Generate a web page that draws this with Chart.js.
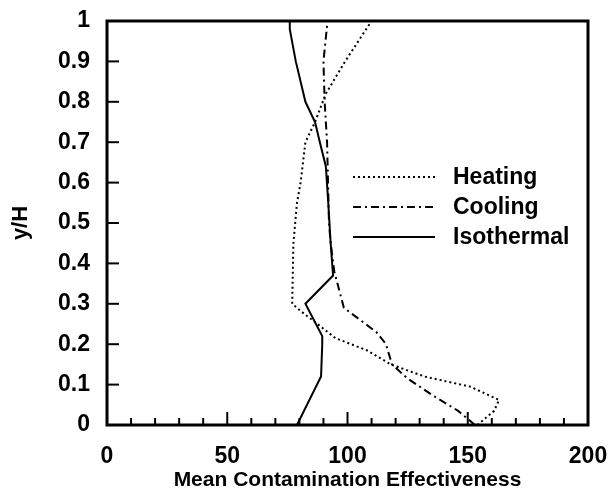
<!DOCTYPE html>
<html>
<head>
<meta charset="utf-8">
<script src="https://cdn.jsdelivr.net/npm/chart.js@4"></script>
<style>
  body { margin: 0; background: #fff; }
</style>
</head>
<body>
<canvas id="myChart" width="616" height="493"></canvas>
<script>
// profiles (x = mean contamination effectiveness, y = y/H)
const HEATING_X = [154, 161, 163, 151, 132, 118, 108, 95, 87.5, 81, 77, 77.5, 79, 80.5, 82.5, 86.5, 91, 99, 110];
const HEATING_Y = [0, 0.035, 0.062, 0.095, 0.12, 0.15, 0.185, 0.215, 0.25, 0.28, 0.3, 0.45, 0.55, 0.6, 0.7, 0.75, 0.82, 0.9, 1.0];

const COOLING_X = [153, 146, 135, 125, 118.5, 116, 112, 98.5, 94.5, 93, 92.3, 91.5, 90.5, 90, 91.7];
const COOLING_Y = [0, 0.035, 0.075, 0.115, 0.15, 0.2, 0.23, 0.29, 0.38, 0.45, 0.5, 0.7, 0.8, 0.9, 1.0];

const ISO_X = [79, 89, 89.5, 89.5, 82.5, 94, 93, 92, 91, 88.5, 86.5, 82.5, 78.5, 76, 76];
const ISO_Y = [0, 0.12, 0.2, 0.22, 0.3, 0.37, 0.45, 0.55, 0.64, 0.7, 0.75, 0.8, 0.9, 0.98, 1.0];

const SERIES_NAMES = ["Heating", "Cooling", "Isothermal"];
const X_TICKS = [0, 50, 100, 150, 200];
const X_MINOR = [10, 20, 30, 40, 60, 70, 80, 90, 110, 120, 130, 140, 160, 170, 180, 190];
const Y_TICKS = [0, 0.1, 0.2, 0.3, 0.4, 0.5, 0.6, 0.7, 0.8, 0.9, 1];

const FONT = "'Liberation Sans', Arial, sans-serif";
const pts = (xs, ys) => xs.map((x, i) => ({x: x, y: ys[i]}));

// inward ticks + box frame
const frameTicks = {
  id: 'frameTicks',
  afterDatasetsDraw(chart) {
    const {ctx, chartArea: a, scales: {x, y}} = chart;
    const seg = (x1, y1, x2, y2) => { ctx.beginPath(); ctx.moveTo(x1, y1); ctx.lineTo(x2, y2); ctx.stroke(); };
    ctx.save();
    ctx.strokeStyle = '#000';
    ctx.lineWidth = 2;
    Y_TICKS.forEach(v => { const p = y.getPixelForValue(v); seg(a.left, p, a.left + 12, p); });
    X_TICKS.forEach(v => { const p = x.getPixelForValue(v); seg(p, a.bottom, p, a.bottom - 13); });
    X_MINOR.forEach(v => { const p = x.getPixelForValue(v); seg(p, a.bottom, p, a.bottom - 7); });
    ctx.lineWidth = 3;
    ctx.strokeRect(a.left, a.top, a.right - a.left, a.bottom - a.top);
    ctx.restore();
  }
};

// legend drawn inside the plot
const insideLegend = {
  id: 'insideLegend',
  afterDraw(chart) {
    const ctx = chart.ctx;
    ctx.save();
    ctx.font = "bold 23px " + FONT;
    ctx.textBaseline = 'middle';
    ctx.fillStyle = '#000';
    chart.data.datasets.forEach((ds, i) => {
      const yy = 177 + i * 30;
      ctx.strokeStyle = '#000';
      ctx.lineWidth = ds.borderWidth;
      ctx.setLineDash(ds.borderDash || []);
      ctx.beginPath(); ctx.moveTo(353, yy); ctx.lineTo(435, yy); ctx.stroke();
      ctx.setLineDash([]);
      ctx.fillText(ds.label, 453, yy + 1);
    });
    ctx.restore();
  }
};

const data = {
  datasets: [
    {label: SERIES_NAMES[0], data: pts(HEATING_X, HEATING_Y), borderColor: '#000', borderWidth: 2, borderDash: [2, 3]},
    {label: SERIES_NAMES[1], data: pts(COOLING_X, COOLING_Y), borderColor: '#000', borderWidth: 2, borderDash: [8, 4, 2, 4]},
    {label: SERIES_NAMES[2], data: pts(ISO_X, ISO_Y), borderColor: '#000', borderWidth: 2}
  ]
};

const CONFIG = {
  type: 'scatter',
  data: data,
  options: {
    responsive: false,
    animation: false,
    showLine: true,
    elements: { point: { radius: 0 }, line: { tension: 0 } },
    layout: { padding: { top: 21, right: 28, left: 0, bottom: 0 } },
    plugins: { legend: { display: false }, tooltip: { enabled: false } },
    scales: {
      x: {
        type: 'linear', min: 0, max: 200,
        afterBuildTicks: s => { s.ticks = X_TICKS.map(v => ({value: v})); },
        afterFit: s => { s.height = 68; s.paddingLeft = 0; s.paddingRight = 0; },
        grid: { display: false, drawTicks: false },
        border: { display: false },
        ticks: { color: '#000', padding: 18, font: { family: FONT, size: 23, weight: 'bold' }, callback: v => String(v) },
        title: { display: true, text: 'Mean Contamination Effectiveness', color: '#000', padding: { top: 3, bottom: 0 },
                 font: { family: FONT, size: 21, weight: 'bold' } }
      },
      y: {
        type: 'linear', min: 0, max: 1,
        afterBuildTicks: s => { s.ticks = Y_TICKS.map(v => ({value: v})); },
        afterFit: s => { s.width = 107; s.paddingTop = 0; s.paddingBottom = 0; },
        grid: { display: false, drawTicks: false },
        border: { display: false },
        ticks: { color: '#000', padding: 17, font: { family: FONT, size: 23, weight: 'bold' }, callback: v => String(v) },
        title: { display: true, text: 'y/H', color: '#000', padding: { top: 8, bottom: 0 },
                 font: { family: FONT, size: 22, weight: 'bold' } }
      }
    }
  },
  plugins: [frameTicks, insideLegend]
};

new Chart(document.querySelector('#myChart'), CONFIG);
</script>
</body>
</html>
